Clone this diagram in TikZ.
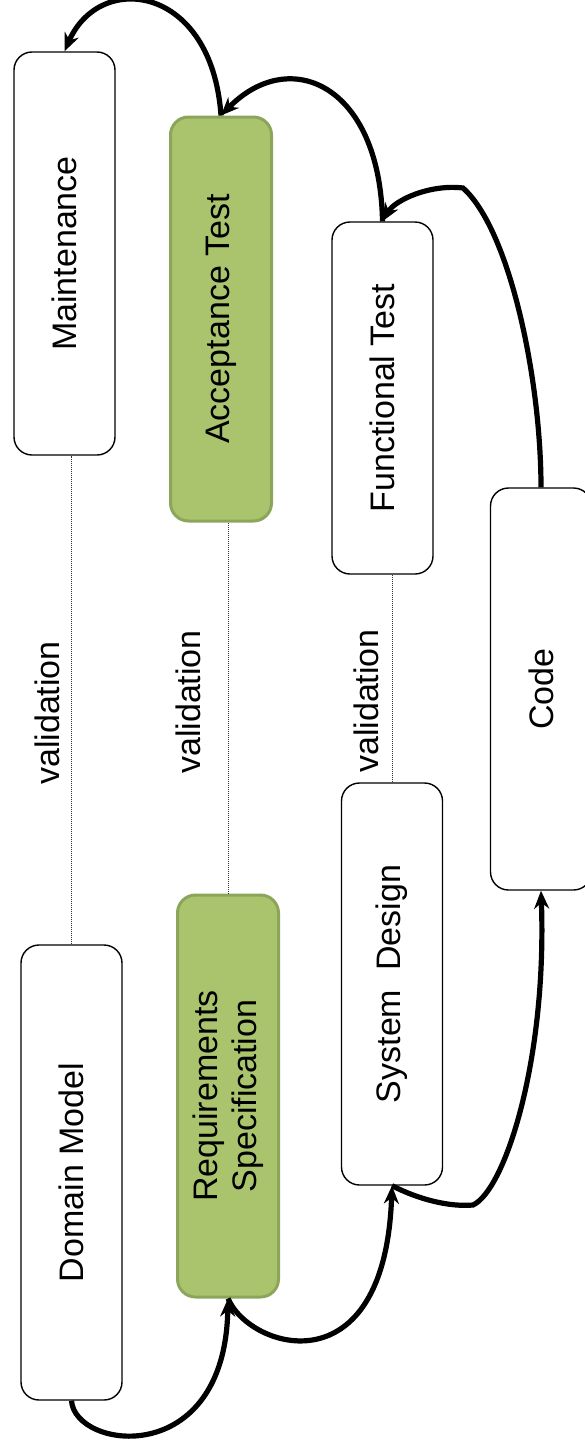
\documentclass[tikz,border=0pt]{standalone}
\usepackage{fontspec}
\setmainfont{Liberation Sans}
\usetikzlibrary{positioning, arrows.meta, calc}
\definecolor{stagegreen}{HTML}{A9C46C}
\definecolor{stageedge}{HTML}{8BA65A}

\begin{document}
\begin{tikzpicture}[
  x=1pt, y=-1pt,
  >={Stealth[length=18pt, width=15pt]},
  every node/.style={font=\fontsize{34}{39}\selectfont},
  stage/.style={draw, line width=1.4pt, rounded corners=18pt, rotate=90, minimum height=101pt, align=center, inner sep=0pt},
  keystage/.style={stage, fill=stagegreen, draw=stageedge, line width=3pt},
  flow/.style={->, line width=5.2pt},
  trace/.style={line width=1pt, dash pattern=on 1pt off 1pt, black!80},
  lbl/.style={rotate=90}
]
\useasboundingbox (0,0) rectangle (585,1440);

% Right arm: tests and maintenance
\node[stage, minimum width=403pt] (maint) at (64.5,253.5) {Maintenance};
\node[keystage, minimum width=404pt] (accept) at (221,319) {Acceptance Test};
\node[stage, minimum width=352pt] (functest) at (382.5,398) {Functional Test};
\node[stage, minimum width=402pt] (code) at (541,689) {Code};

% Left arm: models and design
\node[stage, minimum width=402pt] (sysdes) at (392,984) {System\ \ Design};
\node[keystage, minimum width=402pt] (reqspec) at (228,1096) {Requirements\\Specification};
\node[stage, minimum width=455pt] (domain) at (71.5,1172.5) {Domain Model};

% Validation links
\draw[trace] (domain.east) -- (domain.east |- maint.west);
\draw[trace] (reqspec.east) -- (reqspec.east |- accept.west);
\draw[trace] (sysdes.east) -- (sysdes.east |- functest.west);

\node[lbl] (val1) at (47,713) {validation};
\node[lbl] (val2) at (188,702) {validation};
\node[lbl] (val3) at (366,701) {validation};

% Flow down to the code
\draw[flow] (domain.west) .. controls (75,1450) and (225,1470) .. (reqspec.west);
\draw[flow] (reqspec.west) .. controls (250,1350) and (385,1390) .. (sysdes.west);
\draw[flow] (sysdes.west) .. controls (420,1200) and (450,1207) .. (473,1205)
  .. controls (505,1190) and (547,1060) .. (code.west);

% Flow back up through the tests
\draw[flow] (code.east) .. controls (541,380) and (510,230) .. (463,188)
  .. controls (430,184) and (395,200) .. (functest.east);
\draw[flow] (functest.east) .. controls (380,85) and (290,45) .. (accept.east);
\draw[flow] (accept.east) .. controls (212,-15) and (100,-30) .. (maint.east);

\end{tikzpicture}
\end{document}
